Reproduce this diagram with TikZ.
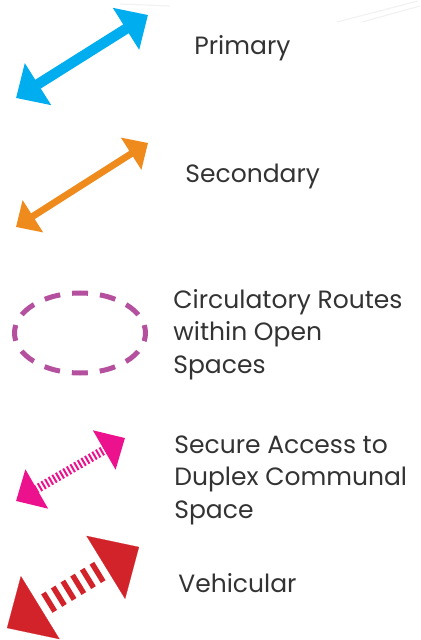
\documentclass[tikz,border=0pt]{standalone}
\usepackage{fontspec}
\setmainfont{Poppins}
\usetikzlibrary{arrows.meta,calc}
\definecolor{primaryblue}{HTML}{00AEEF}
\definecolor{secondaryorange}{HTML}{EE8B1C}
\definecolor{openpurple}{HTML}{B4509E}
\definecolor{securemagenta}{HTML}{EC118C}
\definecolor{vehicularred}{HTML}{D2232A}
\definecolor{legendtext}{HTML}{333333}

\begin{document}
\begin{tikzpicture}[x=0.5pt,y=-0.5pt,
  every node/.style={inner sep=0pt, anchor=base west, align=left,
    text=legendtext, font=\fontsize{12.5}{16.25}\selectfont},
  primary/.style={primaryblue, line width=5.2pt,
    {Triangle[length=13pt,width=24pt]}-{Triangle[length=13pt,width=24pt]}},
  secondary/.style={secondaryorange, line width=3.4pt,
    {Triangle[length=10pt,width=18.5pt]}-{Triangle[length=10pt,width=18.5pt]}},
  openroute/.style={openpurple, line width=2.5pt,
    dash pattern=on 8pt off 6pt, dash phase=4pt},
  secure/.style={securemagenta, line width=4.5pt,
    dash pattern=on 1pt off 1.1pt,
    {Triangle[length=12pt,width=22pt]}-{Triangle[length=12pt,width=22pt]}},
  vehhead/.style={vehicularred, line width=0.1pt,
    -{Triangle[length=19.5pt,width=37pt]}},
  vstripe/.style={vehicularred, line width=2.7pt}]
\useasboundingbox (0,0) rectangle (420,640);

% faint guide lines behind the key
\draw[black!5, line width=0.6pt] (337,22) -- (418,1);
\draw[black!5, line width=0.6pt] (362,22) -- (420,6);
\draw[black!5, line width=0.6pt] (120,4) -- (170,6);

% primary
\coordinate (pri-a) at (16,98);
\coordinate (pri-b) at (148,15);
\draw[primary] (pri-a) -- (pri-b);
\node (pri-lbl) at (194,55) {Primary};

% secondary
\coordinate (sec-a) at (16,227);
\coordinate (sec-b) at (148,143);
\draw[secondary] (sec-a) -- (sec-b);
\node (sec-lbl) at (185,183) {Secondary};

% circulatory routes (base = last line)
\coordinate (open-c) at (80,333);
\draw[openroute] (open-c) ellipse [x radius=32.75pt, y radius=20pt];
\node (open-lbl) at (173,373) {Circulatory Routes\\within Open\\Spaces};

% secure access
\coordinate (sac-a) at (16,501);
\coordinate (sac-b) at (125,438);
\draw[secure] (sac-a) -- (sac-b);
\node (sac-lbl) at (174,518) {Secure Access to\\Duplex Communal\\Space};

% vehicular: two heads, striped shaft
\coordinate (veh-a) at (7,628);
\coordinate (veh-b) at (139,547);
\draw[vehhead] ($(veh-a)!19.5pt!(veh-b)$) -- (veh-a);
\draw[vehhead] ($(veh-b)!19.5pt!(veh-a)$) -- (veh-b);
\foreach \t in {0.319,0.3924,...,0.69}
  \draw[vstripe] ($(veh-a)!\t!(veh-b)!5.4pt!90:(veh-b)$) -- ($(veh-a)!\t!(veh-b)!5.4pt!-90:(veh-b)$);
\node (veh-lbl) at (178,592) {Vehicular};
\end{tikzpicture}
\end{document}
